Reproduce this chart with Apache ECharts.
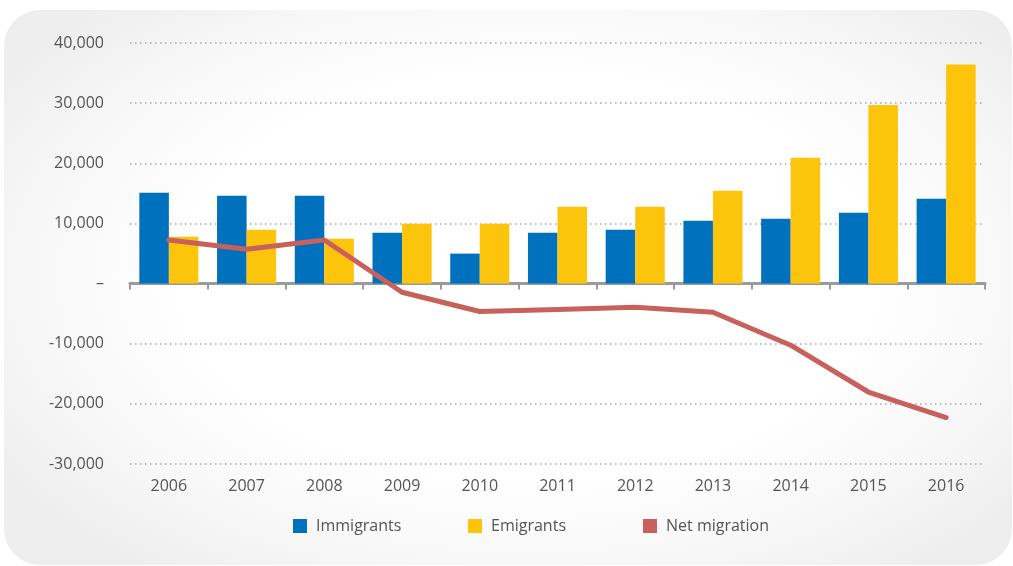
<!DOCTYPE html>
<html>
<head>
<meta charset="utf-8">
<script src="https://cdn.jsdelivr.net/npm/echarts@6/dist/echarts.min.js"></script>
<style>
  html, body { margin: 0; padding: 0; background: #ffffff; width: 1013px; height: 566px; overflow: hidden; }
  #panel {
    position: absolute; left: 4px; top: 10px; width: 1008px; height: 555px;
    border-radius: 36px;
    background: radial-gradient(ellipse 62% 66% at 52% 48%, #ffffff 55%, #f7f7f7 80%, #eeeeee 100%);
  }
  #chart { position: absolute; left: 0; top: 0; width: 1013px; height: 566px; }
</style>
</head>
<body>
<div id="panel"></div>
<div id="chart"></div>
<script>
// Migration flows by year
const years = ['2006', '2007', '2008', '2009', '2010', '2011', '2012', '2013', '2014', '2015', '2016'];
const immigrants = [15100, 14600, 14600, 8450, 4980, 8450, 8950, 10450, 10780, 11770, 14100];
const emigrants = [7800, 8950, 7450, 9950, 9950, 12770, 12770, 15420, 20900, 29680, 36430];
const netMigration = [7250, 5700, 7250, -1450, -4650, -4300, -3930, -4760, -10250, -18030, -22270];

const seriesNames = ['Immigrants', 'Emigrants', 'Net migration'];
const colors = ['#0071bc', '#fcc50c', '#c8605c'];

const fontFamily = '"Open Sans", "Noto Sans", sans-serif';
const textColor = '#555555';

function yLabel(v) {
  if (v === 0) return '\u2013';
  const s = Math.abs(v).toLocaleString('en-US');
  return (v < 0 ? '-' : '') + s;
}

function legendAt(name, left) {
  return {
    data: [name],
    left: left,
    top: 513,
    icon: 'rect',
    itemWidth: 14,
    itemHeight: 14,
    itemGap: 0,
    selectedMode: false,
    textStyle: { color: textColor, fontSize: 16, fontFamily: fontFamily, padding: [0, 0, 0, 4] }
  };
}

const chart = echarts.init(document.getElementById('chart'), null, { renderer: 'canvas' });
chart.setOption({
  backgroundColor: 'transparent',
  animation: false,
  color: colors,
  grid: { left: 130, right: 28, top: 43, bottom: 102, containLabel: false },
  legend: [legendAt(seriesNames[0], 288), legendAt(seriesNames[1], 463), legendAt(seriesNames[2], 638)],
  xAxis: [
    {
      type: 'category',
      data: years,
      position: 'bottom',
      axisLine: { show: false, onZero: false },
      axisTick: { show: false },
      axisLabel: { color: textColor, fontSize: 16, fontFamily: fontFamily, margin: 14 }
    },
    {
      type: 'category',
      data: years,
      position: 'bottom',
      axisLine: { show: true, onZero: true, lineStyle: { color: '#9a9a9c', width: 3 } },
      axisTick: { show: true, length: 6, lineStyle: { color: '#9a9a9c', width: 2 } },
      axisLabel: { show: false }
    }
  ],
  yAxis: {
    type: 'value',
    min: -30000,
    max: 40000,
    interval: 10000,
    axisLine: { show: false },
    axisTick: { show: false },
    axisLabel: { color: textColor, fontSize: 16, fontFamily: fontFamily, margin: 26, formatter: yLabel },
    splitLine: { show: true, lineStyle: { color: '#a8a8a8', width: 1.5, type: [1.5, 3.5] } }
  },
  series: [
    {
      name: seriesNames[0], type: 'bar', data: immigrants, xAxisIndex: 0,
      barGap: '0%', barCategoryGap: '24%',
      itemStyle: { color: colors[0] }
    },
    {
      name: seriesNames[1], type: 'bar', data: emigrants, xAxisIndex: 0,
      barGap: '0%', barCategoryGap: '24%',
      itemStyle: { color: colors[1] }
    },
    {
      name: seriesNames[2], type: 'line', data: netMigration, xAxisIndex: 0,
      showSymbol: false, symbol: 'none', z: 5,
      lineStyle: { color: colors[2], width: 5, cap: 'round', join: 'round' },
      itemStyle: { color: colors[2] }
    }
  ]
});
</script>
</body>
</html>
